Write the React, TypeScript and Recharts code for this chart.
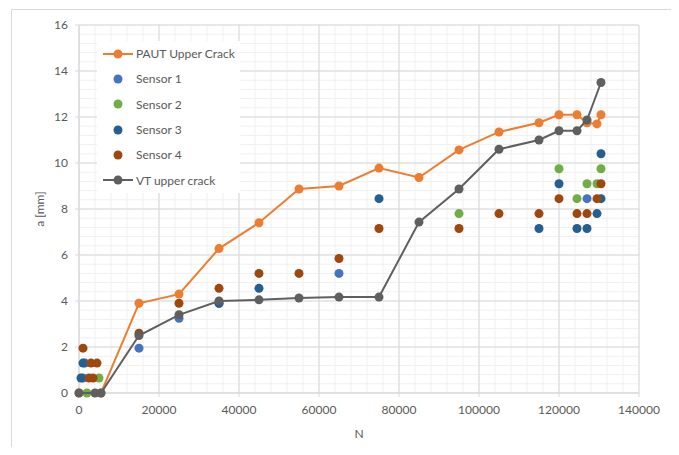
import React from "react";
import {
    ScatterChart,
    Scatter,
    XAxis,
    YAxis,
    CartesianGrid,
} from "recharts";

// PAUT upper crack (line + markers)
const pautN = [0, 5500, 15000, 25000, 35000, 45000, 55000, 65000, 75000, 85000, 95000, 105000, 115000, 120000, 124500, 127000, 129500, 130500];
const pautA = [0, 0, 3.9, 4.3, 6.28, 7.4, 8.87, 9.0, 9.78, 9.37, 10.57, 11.35, 11.75, 12.1, 12.1, 11.75, 11.7, 12.1];

// VT upper crack (line + markers)
const vtN = [0, 4000, 5500, 15000, 25000, 35000, 45000, 55000, 65000, 75000, 85000, 95000, 105000, 115000, 120000, 124500, 127000, 130500];
const vtA = [0, 0, 0, 2.5, 3.4, 4.0, 4.05, 4.13, 4.17, 4.17, 7.43, 8.87, 10.6, 11.0, 11.4, 11.4, 11.87, 13.5];

// sensors (markers only)
const s1N = [1000, 1500, 15000, 25000, 35000, 65000, 127000];
const s1A = [0.65, 1.3, 1.95, 3.25, 3.9, 5.2, 8.45];

const s2N = [2000, 5000, 95000, 120000, 124500, 127000, 129500, 130500];
const s2A = [0, 0.65, 7.8, 9.75, 8.45, 9.1, 9.1, 9.75];

const s3N = [500, 1000, 35000, 45000, 75000, 115000, 120000, 124500, 127000, 129500, 130500, 130500];
const s3A = [0.65, 1.3, 3.9, 4.55, 8.45, 7.15, 9.1, 7.15, 7.15, 7.8, 10.4, 8.45];

const s4N = [1000, 3000, 4500, 2500, 3500, 15000, 25000, 35000, 45000, 55000, 65000, 75000, 95000, 105000, 115000, 120000, 124500, 127000, 129500, 130500];
const s4A = [1.95, 1.3, 1.3, 0.65, 0.65, 2.6, 3.9, 4.55, 5.2, 5.2, 5.85, 7.15, 7.15, 7.8, 7.8, 8.45, 7.8, 7.8, 8.45, 9.1];

const xTicks = [0, 20000, 40000, 60000, 80000, 100000, 120000, 140000];
const yTicks = [0, 2, 4, 6, 8, 10, 12, 14, 16];

const xMinor: number[] = [];
for (let v = 0; v <= 140000; v += 4000) xMinor.push(v);
const yMinor: number[] = [];
for (let v = 0; v <= 16.001; v += 0.4) yMinor.push(Number(v.toFixed(1)));

const zip = (n: number[], a: number[]) => n.map((x, i) => ({ n: x, a: a[i] }));

const series = [
    { name: "PAUT Upper Crack", color: "#ED7D31", data: zip(pautN, pautA), line: true },
    { name: "Sensor 1", color: "#4472C4", data: zip(s1N, s1A), line: false },
    { name: "Sensor 2", color: "#70AD47", data: zip(s2N, s2A), line: false },
    { name: "Sensor 3", color: "#255E91", data: zip(s3N, s3A), line: false },
    { name: "Sensor 4", color: "#9E480E", data: zip(s4N, s4A), line: false },
    { name: "VT upper crack", color: "#5f5f5f", data: zip(vtN, vtA), line: true },
];

const textColor = "#595959";
const font = "Lato, 'Open Sans', sans-serif";

const dot = (color: string) => (p: any) => (
    <circle cx={p.cx} cy={p.cy} r={4.5} fill={color} />
);

function LegendBox() {
    return (
        <div
            style={{
                position: "absolute",
                left: 97,
                top: 41,
                width: 143,
                background: "#fff",
                fontFamily: font,
                fontSize: 12,
                color: textColor,
            }}
        >
            {series.map((s) => (
                <div
                    key={s.name}
                    style={{ display: "flex", alignItems: "center", height: 25.3 }}
                >
                    <svg width={39} height={12} style={{ flex: "none" }}>
                        {s.line && (
                            <line x1={6} x2={36} y1={6} y2={6} stroke={s.color} strokeWidth={2} />
                        )}
                        <circle cx={21} cy={6} r={4.5} fill={s.color} />
                    </svg>
                    <span style={{ whiteSpace: "nowrap" }}>{s.name}</span>
                </div>
            ))}
        </div>
    );
}

export default function App() {
    return (
        <div
            style={{
                position: "relative",
                width: 679,
                height: 455,
                margin: -8,
                background: "#fff",
                overflow: "hidden",
            }}
        >
            <div
                style={{
                    position: "absolute",
                    left: 11,
                    top: 9,
                    width: 700,
                    height: 438,
                    border: "1px solid #d9d9d9",
                }}
            />
            <div
                style={{
                    position: "absolute",
                    left: 0,
                    top: 449,
                    width: 679,
                    height: 6,
                    background: "#f3f3f3",
                }}
            />
            <div style={{ position: "absolute", left: 0, top: 0 }}>
                <ScatterChart
                    width={679}
                    height={455}
                    margin={{ top: 25, right: 40, bottom: 0, left: 11 }}
                >
                    <CartesianGrid
                        stroke="#f0f0f0"
                        verticalValues={xMinor}
                        horizontalValues={yMinor}
                    />
                    <CartesianGrid
                        stroke="#d9d9d9"
                        verticalValues={xTicks}
                        horizontalValues={yTicks}
                    />
                    <XAxis
                        type="number"
                        dataKey="n"
                        domain={[0, 140000]}
                        ticks={xTicks}
                        interval={0}
                        height={62}
                        axisLine={{ stroke: "#d9d9d9" }}
                        tickLine={{ stroke: "#d9d9d9" }}
                        tickSize={4}
                        tickMargin={8}
                        tick={{ fill: textColor, fontSize: 12, fontFamily: font }}
                        label={{
                            value: "N",
                            position: "insideBottom",
                            offset: 17,
                            fill: textColor,
                            fontSize: 12,
                            fontFamily: font,
                        }}
                    />
                    <YAxis
                        type="number"
                        dataKey="a"
                        domain={[0, 16]}
                        ticks={yTicks}
                        interval={0}
                        width={68}
                        axisLine={{ stroke: "#d9d9d9" }}
                        tickLine={{ stroke: "#d9d9d9" }}
                        tickSize={4}
                        tickMargin={7}
                        tick={{ fill: textColor, fontSize: 12, fontFamily: font }}
                        label={{
                            value: "a [mm]",
                            angle: -90,
                            position: "insideLeft",
                            offset: 29,
                            fill: textColor,
                            fontSize: 12,
                            fontFamily: font,
                            style: { textAnchor: "middle" },
                        }}
                    />
                    {series.map((s) => (
                        <Scatter
                            key={s.name}
                            name={s.name}
                            data={s.data}
                            fill={s.color}
                            line={s.line ? { stroke: s.color, strokeWidth: 2 } : false}
                            lineType="joint"
                            shape={dot(s.color)}
                            isAnimationActive={false}
                        />
                    ))}
                </ScatterChart>
            </div>
            <LegendBox />
        </div>
    );
}
